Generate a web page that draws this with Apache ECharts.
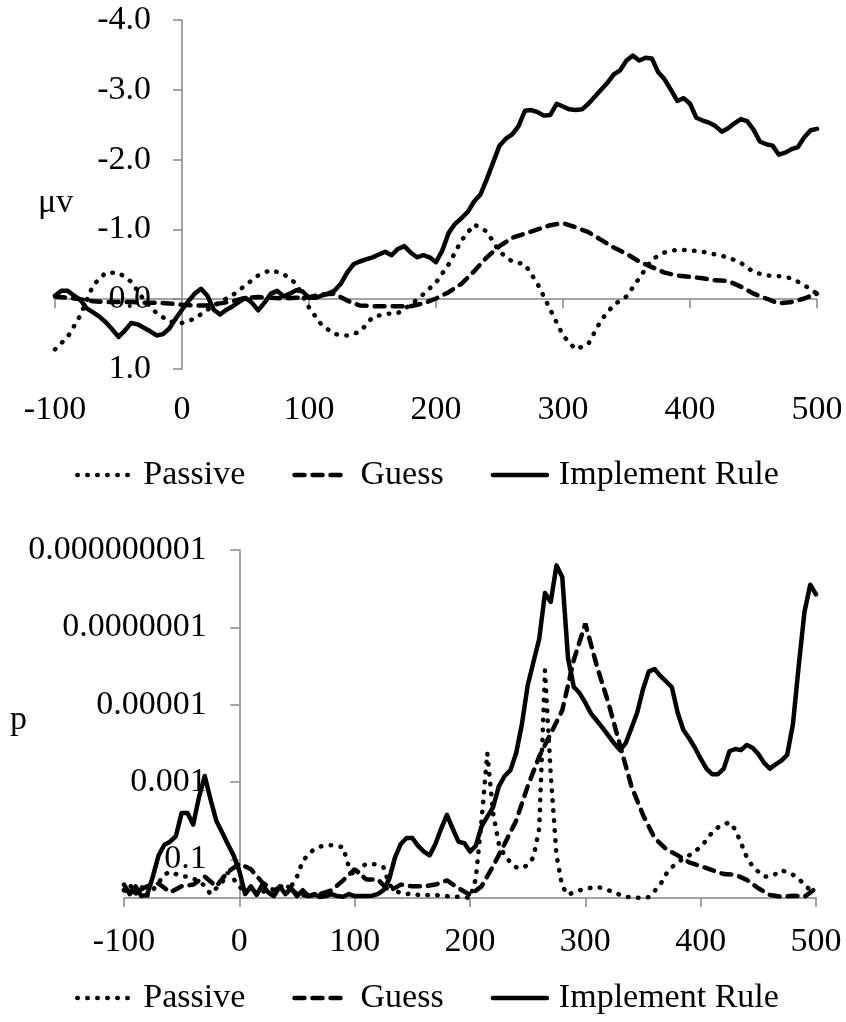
<!DOCTYPE html>
<html>
<head>
<meta charset="utf-8">
<script src="https://cdn.jsdelivr.net/npm/echarts@6/dist/echarts.min.js"></script>
<style>
  html, body { margin: 0; padding: 0; background: #fff; }
  #chart { width: 846px; height: 1022px; }
</style>
</head>
<body>
<div id="chart"></div>
<script>
// ---- time points (ms) ----
const times5 = [
  -100,-95,-90,-85,-80,-75,-70,-65,-60,-55,
  -50,-45,-40,-35,-30,-25,-20,-15,-10,-5,
  0,5,10,15,20,25,30,35,40,45,
  50,55,60,65,70,75,80,85,90,95,
  100,105,110,115,120,125,130,135,140,145,
  150,155,160,165,170,175,180,185,190,195,
  200,205,210,215,220,225,230,235,240,245,
  250,255,260,265,270,275,280,285,290,295,
  300,305,310,315,320,325,330,335,340,345,
  350,355,360,365,370,375,380,385,390,395,
  400,405,410,415,420,425,430,435,440,445,
  450,455,460,465,470,475,480,485,490,495,
  500
];
const times10 = [
  -100,-90,-80,-70,-60,-50,-40,-30,-20,-10,
  0,10,20,30,40,50,60,70,80,90,
  100,110,120,130,140,150,160,170,180,190,
  200,210,220,230,240,250,260,270,280,290,
  300,310,320,330,340,350,360,370,380,390,
  400,410,420,430,440,450,460,470,480,490,
  500
];

// ---- top chart: amplitude (µv) ----
const topPassive = [
  0.72,0.54,0.23,-0.2,-0.38,-0.38,-0.25,0.01,0.2,0.32,
  0.34,0.28,0.15,0.04,-0.06,-0.2,-0.34,-0.42,-0.36,-0.22,
  0.12,0.37,0.5,0.52,0.47,0.26,0.21,0.2,0.08,-0.07,
  -0.24,-0.5,-0.84,-1.07,-0.97,-0.68,-0.54,-0.5,-0.22,0.15,
  0.52,0.72,0.64,0.3,0.08,-0.04,-0.3,-0.57,-0.67,-0.71,
  -0.7,-0.68,-0.64,-0.6,-0.52,-0.39,-0.34,-0.33,-0.3,-0.2,
  -0.08
];
const topGuess = [
  -0.04,-0.02,0.0,0.03,0.04,0.04,0.04,0.05,0.05,0.06,
  0.08,0.09,0.09,0.06,0.03,-0.02,-0.03,-0.02,-0.01,-0.02,
  -0.03,-0.07,-0.08,0.02,0.09,0.1,0.1,0.1,0.1,0.06,
  -0.01,-0.1,-0.22,-0.4,-0.6,-0.76,-0.88,-0.94,-1.0,-1.06,
  -1.09,-1.03,-0.96,-0.85,-0.74,-0.65,-0.54,-0.46,-0.38,-0.34,
  -0.32,-0.3,-0.27,-0.26,-0.18,-0.08,-0.01,0.06,0.04,-0.01,
  -0.08
];
const topImplement = [
  -0.05,-0.12,-0.12,-0.05,0.01,0.13,0.19,0.25,0.33,0.43,
  0.54,0.45,0.34,0.36,0.41,0.46,0.52,0.5,0.42,0.28,
  0.15,0.03,-0.08,-0.15,-0.05,0.15,0.22,0.15,0.1,0.04,
  -0.02,0.05,0.16,0.05,-0.08,-0.12,-0.04,-0.08,-0.13,-0.11,
  -0.02,-0.02,-0.05,-0.08,-0.12,-0.22,-0.38,-0.5,-0.54,-0.57,
  -0.6,-0.64,-0.68,-0.63,-0.72,-0.76,-0.67,-0.6,-0.63,-0.6,
  -0.53,-0.7,-0.95,-1.08,-1.16,-1.25,-1.4,-1.5,-1.72,-1.96,
  -2.2,-2.3,-2.36,-2.48,-2.7,-2.71,-2.68,-2.63,-2.64,-2.8,
  -2.76,-2.72,-2.71,-2.72,-2.8,-2.9,-3.0,-3.1,-3.22,-3.28,
  -3.42,-3.49,-3.42,-3.46,-3.45,-3.25,-3.15,-3.0,-2.84,-2.88,
  -2.8,-2.6,-2.56,-2.53,-2.48,-2.4,-2.45,-2.52,-2.58,-2.55,
  -2.43,-2.26,-2.22,-2.2,-2.07,-2.1,-2.15,-2.18,-2.32,-2.42,
  -2.44
];

// ---- bottom chart: p values ----
const bottomPassive = [
  0.63,0.45,0.79,0.5,0.89,0.63,0.4,0.25,0.21,0.24,
  0.28,0.28,0.32,0.35,0.5,0.79,0.56,0.4,0.22,0.32,
  0.5,0.71,0.56,0.79,0.63,0.89,0.71,0.56,0.79,0.5,
  0.28,0.11,0.074,0.054,0.047,0.043,0.043,0.046,0.048,0.16,
  0.28,0.17,0.13,0.13,0.14,0.16,0.45,0.63,0.76,0.79,
  0.76,0.83,0.79,0.87,0.83,0.89,0.89,0.93,0.93,0.95,
  1,0.32,0.01,0.00018,0.0063,0.04,0.079,0.12,0.16,0.17,
  0.14,0.089,0.016,0.0000013,0.00063,0.079,0.5,0.83,0.71,0.63,
  0.6,0.54,0.51,0.56,0.63,0.71,0.83,0.93,0.95,0.98,
  0.98,0.95,0.66,0.45,0.24,0.16,0.12,0.095,0.079,0.063,
  0.047,0.032,0.02,0.015,0.0126,0.011,0.017,0.038,0.089,0.15,
  0.21,0.28,0.28,0.24,0.19,0.22,0.25,0.32,0.45,0.63,
  0.56
];
const bottomGuess = [
  0.63,0.71,0.5,0.42,0.71,0.5,0.45,0.28,0.5,0.21,
  0.13,0.18,0.4,0.63,0.45,0.79,0.89,0.79,0.63,0.35,
  0.18,0.33,0.33,0.66,0.45,0.5,0.5,0.45,0.35,0.56,
  0.83,0.5,0.15,0.04,0.01,0.0013,0.00022,0.000056,0.000014,0.0000007,
  0.00000008,0.000001,0.000009,0.00011,0.0013,0.0071,0.028,0.054,0.079,0.12,
  0.15,0.19,0.24,0.25,0.34,0.56,0.83,0.93,0.87,0.93,
  0.56
];
const bottomImplement = [
  0.45,0.79,0.5,0.89,0.83,0.28,0.079,0.042,0.035,0.025,
  0.0063,0.0063,0.0126,0.0025,0.0007,0.0028,0.01,0.02,0.04,0.079,
  0.2,0.79,0.5,0.83,0.45,0.71,0.89,0.5,0.79,0.56,
  0.89,0.63,0.89,0.79,0.95,0.89,0.79,0.89,0.93,0.79,
  0.89,0.89,0.89,0.87,0.79,0.63,0.32,0.089,0.04,0.028,
  0.028,0.045,0.063,0.079,0.04,0.016,0.0071,0.016,0.035,0.038,
  0.063,0.045,0.014,0.0079,0.0045,0.0013,0.0007,0.0005,0.00018,0.000032,
  0.0000032,0.00000079,0.0000002,0.000000013,0.000000022,0.0000000025,0.000000005,0.00000063,0.0000035,0.000005,
  0.0000089,0.000017,0.000026,0.00004,0.000063,0.0001,0.00015,0.0001,0.00004,0.000016,
  0.000004,0.0000014,0.0000012,0.0000018,0.0000025,0.0000035,0.000016,0.000045,0.000074,0.00013,
  0.00025,0.00045,0.00063,0.00063,0.00045,0.00016,0.00014,0.00015,0.00011,0.00013,
  0.00019,0.00032,0.00045,0.00035,0.00028,0.0002,0.000032,0.000001,0.00000004,0.0000000079,
  0.000000014
];

// ---- tick labels ----
const pTickValues = [1e-9, 1e-7, 1e-5, 1e-3, 1e-1];
const pTickLabels = ['0.000000001', '0.0000001', '0.00001', '0.001', '0.1'];
const legendNames = ['Passive', 'Guess', 'Implement Rule'];

const FONT = 'Liberation Serif';
const AXIS_GRAY = '#868686';

function pairs(xs, ys) { return xs.map((x, i) => [x, ys[i]]); }

function styleFor(name) {
  if (name === 'Passive') return { color: '#000', width: 4.5, type: [0.5, 9.5], cap: 'round' };
  if (name === 'Guess') return { color: '#000', width: 4.5, type: [10, 8], cap: 'round' };
  return { color: '#000', width: 4.5, type: 'solid', cap: 'round', join: 'round' };
}

function mkSeries(name, xi, yi, xs, ys) {
  return {
    name: name, type: 'line', xAxisIndex: xi, yAxisIndex: yi,
    data: pairs(xs, ys), symbol: 'none', showSymbol: false,
    itemStyle: { color: '#000' },
    lineStyle: styleFor(name),
    emphasis: { disabled: true },
    silent: true
  };
}

function pLabel(v) {
  for (let i = 0; i < pTickValues.length; i++) {
    if (Math.abs(Math.log10(v) - Math.log10(pTickValues[i])) < 1e-6) return pTickLabels[i];
  }
  return '';
}

const axisLineStyle = { color: AXIS_GRAY, width: 1.5 };
const labelBase = { color: '#000', fontFamily: FONT, fontSize: 34 };

const legendBase = {
  data: legendNames,
  itemWidth: 54, itemHeight: 14, itemGap: 47,
  itemStyle: { opacity: 0 },
  lineStyle: { width: 4.5, cap: 'round' },
  textStyle: { color: '#000', fontFamily: FONT, fontSize: 34, padding: [0, 0, 0, 7] },
  selectedMode: false
};

// grid geometry
const TOP_LEFT = 55, TOP_ZERO_X = 182;
const BOT_LEFT = 124, BOT_ZERO_X = 238.7;

const option = {
  animation: false,
  backgroundColor: '#fff',
  textStyle: { fontFamily: FONT },
  grid: [
    { left: TOP_LEFT, right: 29, top: 20, height: 349, containLabel: false, outerBoundsMode: 'none' },
    { left: BOT_LEFT, right: 30, top: 550, height: 348, containLabel: false, outerBoundsMode: 'none' }
  ],
  xAxis: [
    { gridIndex: 0, type: 'value', min: -100, max: 500, interval: 100, position: 'bottom',
      axisLine: { show: true, onZero: true, lineStyle: axisLineStyle },
      axisTick: { show: true, length: 9, lineStyle: axisLineStyle },
      axisLabel: { show: false }, splitLine: { show: false } },
    { gridIndex: 0, type: 'value', min: -100, max: 500, interval: 100, position: 'bottom',
      axisLine: { show: false, onZero: false },
      axisTick: { show: false },
      axisLabel: Object.assign({ margin: 24 }, labelBase), splitLine: { show: false } },
    { gridIndex: 1, type: 'value', min: -100, max: 500, interval: 100, position: 'bottom',
      axisLine: { show: true, onZero: false, lineStyle: axisLineStyle },
      axisTick: { show: true, length: 9, lineStyle: axisLineStyle },
      axisLabel: Object.assign({ margin: 27 }, labelBase), splitLine: { show: false } }
  ],
  yAxis: [
    { gridIndex: 0, type: 'value', inverse: true, min: -4, max: 1, interval: 1,
      axisLine: { show: true, onZero: true, onZeroAxisIndex: 0, lineStyle: axisLineStyle },
      axisTick: { show: true, length: 9, lineStyle: axisLineStyle },
      axisLabel: Object.assign({ margin: 31 - (TOP_ZERO_X - TOP_LEFT), formatter: v => v.toFixed(1) }, labelBase),
      splitLine: { show: false } },
    { gridIndex: 1, type: 'log', logBase: 10, inverse: true, min: 1e-9, max: 1,
      axisLine: { show: true, onZero: true, lineStyle: axisLineStyle },
      axisTick: { show: true, length: 9, lineStyle: axisLineStyle, customValues: pTickValues },
      axisLabel: Object.assign({ margin: 32 - (BOT_ZERO_X - BOT_LEFT), customValues: pTickValues, formatter: pLabel }, labelBase),
      splitLine: { show: false }, minorTick: { show: false } }
  ],
  legend: [
    Object.assign({ left: 70, top: 453 }, legendBase),
    Object.assign({ left: 70, top: 976 }, legendBase)
  ],
  graphic: [
    { type: 'text', left: 38, top: 186, style: { text: 'μv', fill: '#000', font: '34px "Liberation Serif"' } },
    { type: 'text', left: 10, top: 703, style: { text: 'p', fill: '#000', font: '34px "Liberation Serif"' } }
  ],
  series: [
    mkSeries('Passive', 0, 0, times10, topPassive),
    mkSeries('Guess', 0, 0, times10, topGuess),
    mkSeries('Implement Rule', 0, 0, times5, topImplement),
    mkSeries('Passive', 2, 1, times5, bottomPassive),
    mkSeries('Guess', 2, 1, times10, bottomGuess),
    mkSeries('Implement Rule', 2, 1, times5, bottomImplement)
  ]
};

const chart = echarts.init(document.getElementById('chart'), null, { renderer: 'canvas' });
chart.setOption(option);
</script>
</body>
</html>
